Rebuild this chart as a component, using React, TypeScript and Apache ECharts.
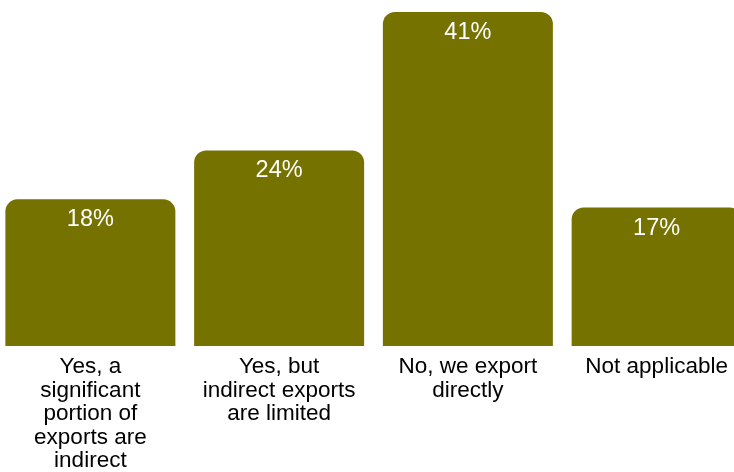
import React, { useEffect, useRef } from "react";
import * as echarts from "echarts";

const categories = [
  "Yes, a\nsignificant\nportion of\nexports are\nindirect",
  "Yes, but\nindirect exports\nare limited",
  "No, we export\ndirectly",
  "Not applicable",
];
const values = [18, 24, 41, 17];

export default function App() {
  const ref = useRef<HTMLDivElement>(null);
  useEffect(() => {
    if (!ref.current) return;
    const chart = echarts.init(ref.current, null, { renderer: "svg" });
    chart.setOption({
      animation: false,
      grid: { left: 0, right: 0, top: 12, bottom: 126, containLabel: false, outerBoundsMode: "none" },
      xAxis: {
        type: "category",
        data: categories,
        axisLine: { show: false },
        axisTick: { show: false },
        axisLabel: {
          interval: 0,
          color: "#000",
          fontFamily: "Liberation Sans, Arial, sans-serif",
          fontSize: 22.5,
          lineHeight: 23.5,
          margin: 8,
        },
      },
      yAxis: {
        type: "value",
        min: 0,
        max: 41,
        show: false,
        splitLine: { show: false },
      },
      series: [
        {
          type: "bar",
          data: values,
          barWidth: 170,
          itemStyle: { color: "#767200", borderRadius: [12, 12, 0, 0] },
          label: {
            show: true,
            position: "insideTop",
            distance: 7,
            color: "#fff",
            fontFamily: "Liberation Sans, Arial, sans-serif",
            fontSize: 23.5,
            formatter: (p: any) => p.value + "%",
          },
        },
      ],
    });
    return () => chart.dispose();
  }, []);
  return (
    <div style={{ position: "fixed", left: 0, top: 0, width: 734, height: 472, overflow: "hidden" }}>
      <div ref={ref} style={{ width: 755, height: 472, position: "absolute", left: -4.5, top: 0 }} />
    </div>
  );
}
